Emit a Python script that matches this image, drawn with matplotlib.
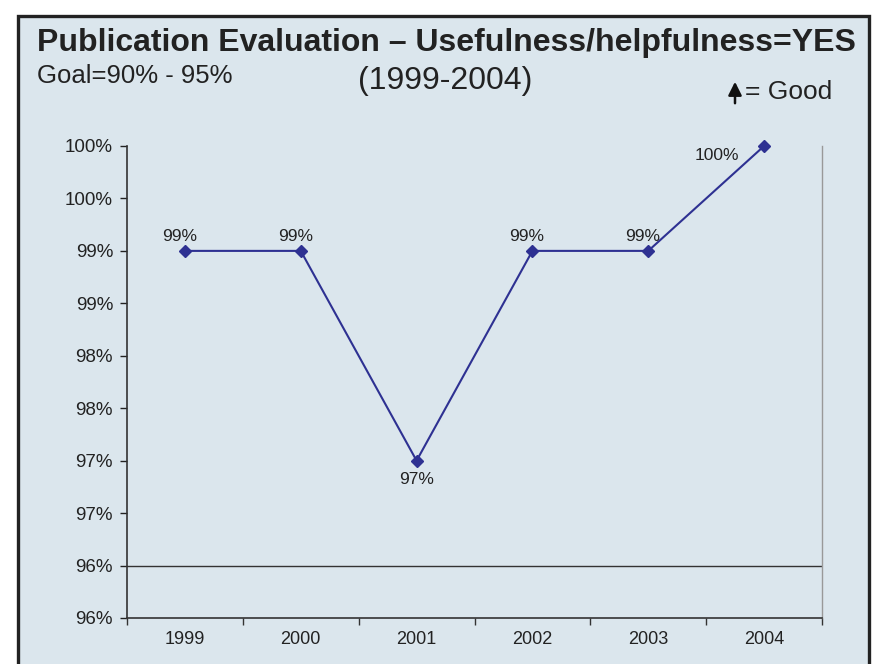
import matplotlib
matplotlib.use("Agg")
import matplotlib.pyplot as plt
from matplotlib.patches import Rectangle, FancyArrowPatch

plt.rcParams['font.family'] = ['Liberation Sans', 'DejaVu Sans']

years = ['1999', '2000', '2001', '2002', '2003', '2004']
values = [99.0, 99.0, 97.0, 99.0, 99.0, 100.0]
point_labels = ['99%', '99%', '97%', '99%', '99%', '100%']
ytick_values = [95.5, 96.0, 96.5, 97.0, 97.5, 98.0, 98.5, 99.0, 99.5, 100.0]
ytick_labels = ['96%', '96%', '97%', '97%', '98%', '98%', '99%', '99%', '100%', '100%']
ref_line = 96.0

W, H = 875, 664
BG = '#dbe6ed'
LINE = '#2e3192'
fig = plt.figure(figsize=(W / 100, H / 100), dpi=100)
fig.patch.set_facecolor('white')

def fx(px):
    return px / W

def fy(py):
    return 1 - py / H

# framed panel
frame = Rectangle((fx(17.5), fy(700)), fx(868.5) - fx(17.5), fy(15.5) - fy(700),
                  transform=fig.transFigure, facecolor=BG, edgecolor='#222222',
                  linewidth=2.4, zorder=-10)
fig.patches.append(frame)

ax = fig.add_axes([fx(127), fy(618), fx(822) - fx(127), fy(146) - fy(618)])
ax.set_zorder(5)
ax.set_facecolor('none')
x = list(range(len(years)))
ax.plot(x, values, color=LINE, linewidth=1.5, marker='D', markersize=6,
        markerfacecolor=LINE, markeredgecolor=LINE, zorder=3, clip_on=False)

ax.set_xlim(-0.5, len(years) - 0.5)
ax.set_ylim(ytick_values[0], ytick_values[-1])
ax.set_yticks(ytick_values)
ax.set_yticklabels(ytick_labels)
ax.set_xticks(x)
ax.set_xticklabels(years)
ax.set_xticks([i - 0.5 for i in range(len(years) + 1)], minor=True)
ax.tick_params(axis='x', which='major', length=0, pad=9, labelsize=13, colors='#222222')
ax.tick_params(axis='x', which='minor', length=5, width=1, direction='out', color='#333333')
ax.tick_params(axis='y', which='major', length=5, width=1, direction='out', pad=5,
               labelsize=13.5, colors='#222222')

ax.axhline(ref_line, color='#333333', linewidth=1.0, zorder=1)

ax.spines['top'].set_visible(False)
ax.spines['left'].set_color('#333333')
ax.spines['bottom'].set_color('#333333')
ax.spines['left'].set_linewidth(1.2)
ax.spines['bottom'].set_linewidth(1.2)
ax.spines['right'].set_color('#999999')
ax.spines['right'].set_linewidth(1.0)

for i, (v, lab) in enumerate(zip(values, point_labels)):
    if lab == '97%':
        ax.annotate(lab, (i, v), xytext=(0, -8), textcoords='offset points',
                    ha='center', va='top', fontsize=12.5, color='#222222')
    elif i == len(values) - 1:
        ax.annotate(lab, (i, v), xytext=(-34, -7), textcoords='offset points',
                    ha='center', va='center', fontsize=12.5, color='#222222')
    else:
        ax.annotate(lab, (i, v), xytext=(-4, 5), textcoords='offset points',
                    ha='center', va='bottom', fontsize=12.5, color='#222222')

fig.text(fx(37), fy(43), 'Publication Evaluation \u2013 Usefulness/helpfulness=YES',
         fontsize=23, fontweight='bold', color='#222222', ha='left', va='center')
fig.text(fx(37), fy(76), 'Goal=90% - 95%', fontsize=18.5, color='#222222',
         ha='left', va='center')
fig.text(fx(445), fy(81), '(1999-2004)', fontsize=23, color='#222222',
         ha='center', va='center')
fig.text(fx(745), fy(92), '= Good', fontsize=19, color='#222222',
         ha='left', va='center')
fig.patches.append(FancyArrowPatch(
    (fx(735), fy(106)), (fx(735), fy(79)), transform=fig.transFigure,
    arrowstyle='-|>,head_length=8,head_width=4', color='#111111',
    linewidth=1.8, mutation_scale=1))

fig.savefig('out.png', dpi=100, facecolor='white')
